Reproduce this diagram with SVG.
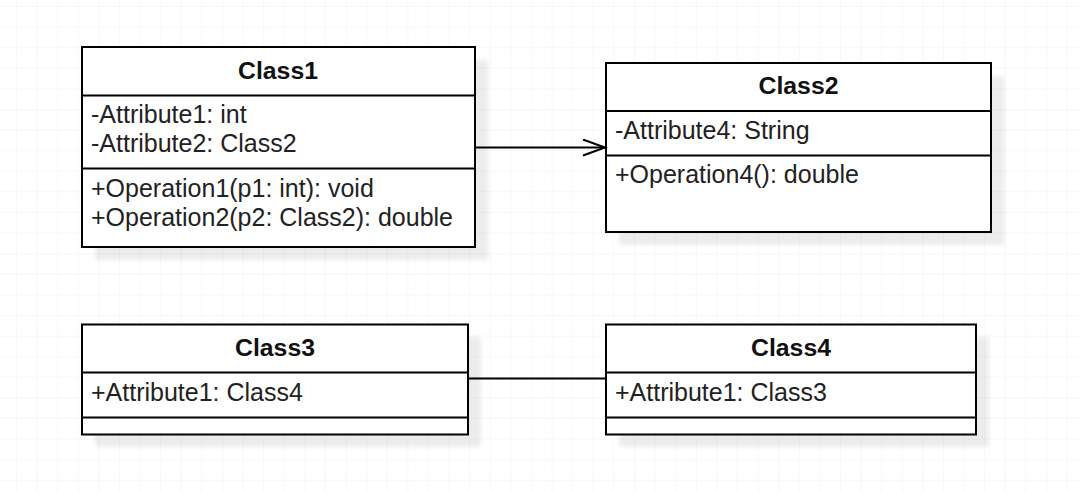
<svg xmlns="http://www.w3.org/2000/svg" width="1080" height="492" viewBox="0 0 1080 492">
<defs>
<pattern id="grid" x="16" y="6" width="20.6" height="20.6" patternUnits="userSpaceOnUse">
<path d="M0 0 V20.6 M0 0 H20.6" fill="none" stroke="#efefef" stroke-width="1"/>
</pattern>
<filter id="blur" x="-10%" y="-10%" width="120%" height="120%"><feGaussianBlur stdDeviation="2"/></filter>
<marker id="open" markerWidth="26" markerHeight="20" refX="23" refY="9" orient="auto" markerUnits="userSpaceOnUse">
<path d="M1 1 L23 9 L1 17" fill="none" stroke="#000" stroke-width="2"/>
</marker>
</defs>
<style>
.box{fill:#fff;stroke:#000;stroke-width:2}
.shadow{fill:#000;opacity:0.07;filter:url(#blur)}
.div{stroke:#000;stroke-width:2}
.title{font-family:"Liberation Sans",Arial,sans-serif;font-size:24.8px;font-weight:bold;text-anchor:middle;fill:#111}
.t{font-family:"Liberation Sans",Arial,sans-serif;font-size:25px;fill:#222}
.edge{stroke:#000;stroke-width:2;fill:none}
</style>
<rect width="1080" height="492" fill="#fff"/>
<rect width="1080" height="492" fill="url(#grid)"/>
<g id="Class1">
<rect class="shadow" x="95" y="60" width="393" height="200"/>
<rect class="box" x="82" y="47" width="393" height="200"/>
<line class="div" x1="82" y1="95.5" x2="475" y2="95.5"/>
<line class="div" x1="82" y1="168.5" x2="475" y2="168.5"/>
<text class="title" x="278" y="79">Class1</text>
<text class="t" x="91" y="123">-Attribute1: int</text>
<text class="t" x="91" y="152">-Attribute2: Class2</text>
<text class="t" x="91" y="196.5">+Operation1(p1: int): void</text>
<text class="t" x="91" y="225.5">+Operation2(p2: Class2): double</text>
</g>
<g id="Class2">
<rect class="shadow" x="619" y="76" width="385" height="169"/>
<rect class="box" x="606" y="63" width="385" height="169"/>
<line class="div" x1="606" y1="111" x2="991" y2="111"/>
<line class="div" x1="606" y1="155.5" x2="991" y2="155.5"/>
<text class="title" x="798.5" y="94">Class2</text>
<text class="t" x="615" y="139">-Attribute4: String</text>
<text class="t" x="615" y="183">+Operation4(): double</text>
</g>
<g id="Class3">
<rect class="shadow" x="95" y="337" width="386" height="110"/>
<rect class="box" x="82" y="324.5" width="386" height="110"/>
<line class="div" x1="82" y1="372.5" x2="468" y2="372.5"/>
<line class="div" x1="82" y1="417.5" x2="468" y2="417.5"/>
<text class="title" x="275" y="356">Class3</text>
<text class="t" x="91" y="400.5">+Attribute1: Class4</text>
</g>
<g id="Class4">
<rect class="shadow" x="619" y="337" width="370" height="110"/>
<rect class="box" x="606" y="324.5" width="370" height="110"/>
<line class="div" x1="606" y1="372.5" x2="976" y2="372.5"/>
<line class="div" x1="606" y1="417.5" x2="976" y2="417.5"/>
<text class="title" x="791" y="356">Class4</text>
<text class="t" x="615" y="400.5">+Attribute1: Class3</text>
</g>
<g id="connectors">
<line class="edge" x1="476" y1="147.5" x2="605" y2="147.5" marker-end="url(#open)"/>
<line class="edge" x1="469" y1="378.5" x2="605" y2="378.5"/>
</g>
</svg>
